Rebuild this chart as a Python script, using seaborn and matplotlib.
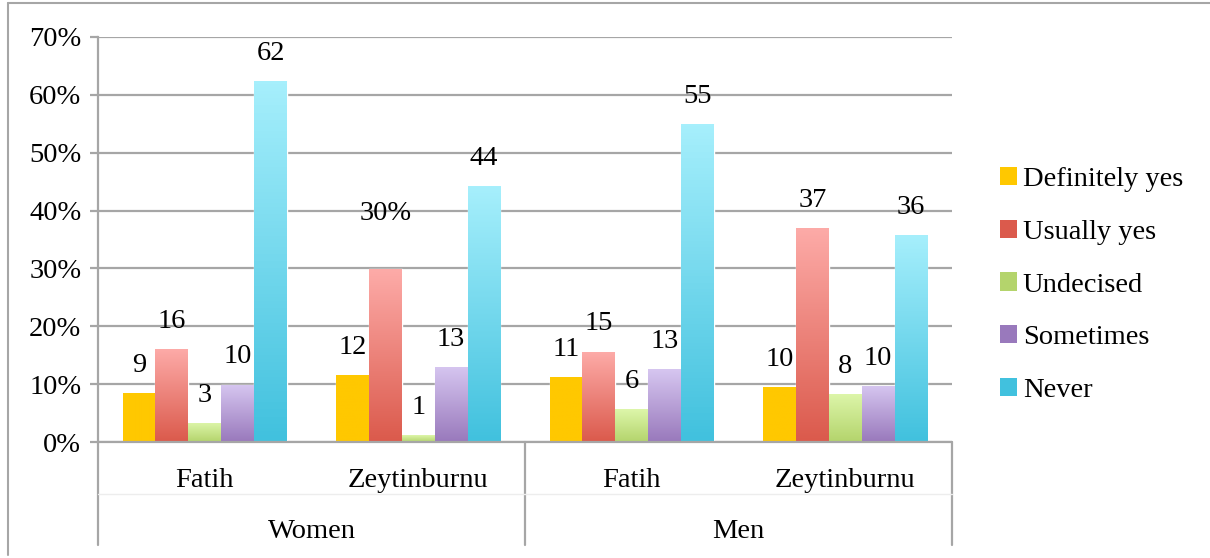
import numpy as np
import pandas as pd
import seaborn as sns
import matplotlib.pyplot as plt
from matplotlib.colors import LinearSegmentedColormap
from matplotlib.lines import Line2D
from matplotlib.patches import Patch

# data (percent)
genders = ["Women", "Women", "Men", "Men"]
districts = ["Fatih", "Zeytinburnu", "Fatih", "Zeytinburnu"]
responses = ["Definitely yes", "Usually yes", "Undecised", "Sometimes", "Never"]
definitely_yes = [8.5, 11.6, 11.2, 9.5]
usually_yes = [16.1, 29.9, 15.6, 37.0]
undecised = [3.3, 1.2, 5.7, 8.3]
sometimes = [9.9, 13.0, 12.6, 9.7]
never = [62.4, 44.2, 55.0, 35.8]
bar_labels = [
    ["9", "12", "11", "10"],
    ["16", "30%", "15", "37"],
    ["3", "1", "6", "8"],
    ["10", "13", "13", "10"],
    ["62", "44", "55", "36"],
]

series = [definitely_yes, usually_yes, undecised, sometimes, never]
rows = []
for resp, vals in zip(responses, series):
    for i, v in enumerate(vals):
        rows.append({"cat": f"{genders[i]}|{districts[i]}", "response": resp, "value": v / 100})
df = pd.DataFrame(rows)

# (top, bottom) colours of the gradient fills
grad = {
    "Definitely yes": ("#FFC800", "#FFC800"),
    "Usually yes": ("#FDABA8", "#DB5A4C"),
    "Undecised": ("#DDF6AA", "#B4D46C"),
    "Sometimes": ("#D6C6F0", "#9979BC"),
    "Never": ("#A6EFFC", "#41C1DE"),
}
palette = {k: v[1] for k, v in grad.items()}
fs = 20.5

sns.set_style("white")
plt.rcParams["font.family"] = "serif"
plt.rcParams["font.serif"] = ["Liberation Serif", "DejaVu Serif"]
plt.rcParams["text.color"] = "black"
fig = plt.figure(figsize=(12.1, 5.58), dpi=100)
ax = fig.add_axes([98 / 1210, 1 - 442 / 558, (952 - 98) / 1210, (442 - 37) / 558])

sns.barplot(data=df, x="cat", y="value", hue="response", palette=palette,
            width=0.77, ax=ax, legend=False, zorder=3)

ax.set_ylim(0, 0.7)
ax.set_xlim(-0.5, 3.5)
ax.set_yticks(np.arange(0, 0.71, 0.1))
ax.set_yticklabels([f"{int(round(t * 100))}%" for t in np.arange(0, 0.71, 0.1)], fontsize=fs)
ax.yaxis.grid(True, color="#A6A6A6", lw=1.6, zorder=0)
ax.tick_params(axis="y", length=6, width=1.6, color="#A6A6A6", labelcolor="black", pad=6, left=True)
ax.tick_params(axis="x", length=0, pad=19, labelcolor="black")
for s in ["top", "right", "bottom"]:
    ax.spines[s].set_visible(False)
ax.spines["left"].set_color("#A6A6A6")
ax.spines["left"].set_linewidth(1.6)
ax.set_xticks(range(4))
ax.set_xticklabels(districts, fontsize=fs)
ax.set_xlabel("")
ax.set_ylabel("")

# gradient fills clipped to each bar
for resp, cont in zip(responses, ax.containers):
    top, bot = grad[resp]
    cmap = LinearSegmentedColormap.from_list(resp, [bot, top])
    for p in cont.patches:
        x0, y0 = p.get_x(), p.get_y()
        w, h = p.get_width(), p.get_height()
        im = ax.imshow(np.linspace(0, 1, 100).reshape(-1, 1), cmap=cmap, origin="lower",
                       extent=[x0, x0 + w, y0, y0 + h], aspect="auto", zorder=4)
        im.set_clip_path(p)
ax.set_xlim(-0.5, 3.5)
ax.set_ylim(0, 0.7)

# value labels
for labels, cont in zip(bar_labels, ax.containers):
    for lab, p in zip(labels, cont.patches):
        off = 40 if lab.endswith("%") else 20
        ax.annotate(lab, (p.get_x() + p.get_width() / 2, p.get_height()),
                    xytext=(0, off), textcoords="offset points",
                    ha="center", va="center", fontsize=fs, zorder=5)

# multi-level category axis
trans = ax.get_xaxis_transform()
for xv in [-0.5, 1.5, 3.5]:
    ax.add_line(Line2D([xv, xv], [0, -0.255], transform=trans, color="#A6A6A6",
                       lw=1.6, clip_on=False))
ax.add_line(Line2D([-0.5, 3.5], [0, 0], transform=trans, color="#A6A6A6", lw=1.6,
                   clip_on=False, zorder=6))
ax.add_line(Line2D([-0.5, 3.5], [-0.128, -0.128], transform=trans, color="#EDEDED",
                   lw=1, clip_on=False))
ax.text(0.5, -0.222, "Women", transform=trans, ha="center", va="center", fontsize=fs)
ax.text(2.5, -0.222, "Men", transform=trans, ha="center", va="center", fontsize=fs)

# legend
handles = [Patch(facecolor=grad[r][1], edgecolor="none") for r in responses]
fig.legend(handles, responses, loc="center left", bbox_to_anchor=(1000 / 1210, 1 - 285 / 558),
           frameon=False, fontsize=fs, handlelength=0.6, handleheight=0.6,
           handletextpad=0.2, labelspacing=0.97, borderaxespad=0, borderpad=0)

# outer frame
fig.add_artist(Line2D([8 / 1210, 8 / 1210], [1 - 555 / 558, 1 - 3 / 558], color="#A6A6A6", lw=1.5))
fig.add_artist(Line2D([8 / 1210, 1], [1 - 3 / 558, 1 - 3 / 558], color="#A6A6A6", lw=1.5))

fig.savefig("out.png", dpi=100)
